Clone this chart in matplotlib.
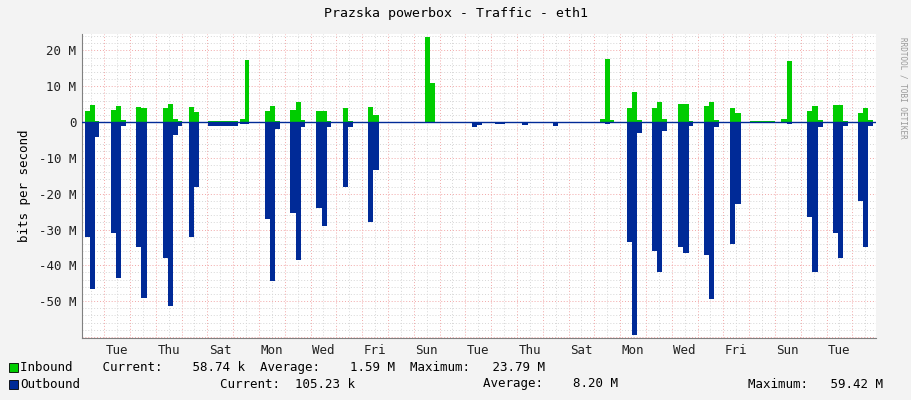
import matplotlib
matplotlib.use("Agg")
import matplotlib.pyplot as plt
from matplotlib.patches import Rectangle

# hours since start of graph; bin boundaries
bin_start = [2.8, 7.4, 12.1, 27.0, 31.6, 36.3, 50.2, 54.9, 75.3, 80.0, 84.7, 89.3,
             99.5, 104.2, 117.2, 147.0, 151.6, 170.2, 174.9, 179.5, 193.5, 199.1, 203.7,
             217.7, 223.3, 227.9, 242.8, 247.4, 266.0, 270.7, 319.1, 323.7, 362.8, 367.4,
             384.2, 409.3, 438.1, 458.6, 481.8, 486.5, 491.1, 507.0, 511.6, 516.3,
             530.2, 534.9, 539.5, 554.4, 559.1, 564.7, 578.6, 583.3, 587.9, 602.8, 607.4,
             621.4, 650.2, 655.8, 674.4, 679.1, 684.6, 698.6, 703.3, 707.9,
             721.8, 726.5, 731.1]
bin_end = [7.4, 12.1, 15.8, 31.6, 36.3, 40.9, 54.9, 60.5, 80.0, 84.7, 89.3, 93.0,
           104.2, 108.8, 145.1, 151.6, 155.3, 174.9, 179.5, 184.2, 199.1, 203.7, 207.4,
           223.3, 227.9, 231.6, 247.4, 252.1, 270.7, 276.3, 323.7, 328.4, 367.4, 372.1,
           393.5, 414.9, 442.8, 463.2, 486.5, 491.1, 494.9, 511.6, 516.3, 520.9,
           534.9, 539.5, 544.2, 559.1, 564.7, 568.4, 583.3, 587.9, 592.5, 607.4, 613.0,
           644.6, 655.8, 660.5, 679.1, 684.6, 689.3, 703.3, 707.9, 712.6,
           726.5, 731.1, 735.8]
inbound = [3.2, 4.8, 0.3, 3.5, 4.5, 0.5, 4.2, 4.0, 4.0, 5.0, 1.0, 0.2,
           4.2, 2.7, 0.2, 1.0, 17.2, 3.0, 4.5, 0.3, 3.5, 5.5, 0.5,
           3.0, 3.0, 0.2, 4.0, 0.3, 4.2, 2.0, 23.8, 11.0, 0.1, 0.1,
           0.1, 0.1, 0.1, 0.1, 0.8, 17.5, 0.5, 4.0, 8.5, 0.5,
           4.0, 5.5, 1.0, 5.0, 5.0, 0.2, 4.5, 5.5, 0.5, 4.0, 2.5,
           0.2, 1.0, 17.0, 3.0, 4.5, 0.5, 4.8, 4.8, 0.2,
           2.5, 3.8, 0.5]
outbound = [-32.0, -46.5, -4.2, -31.0, -43.5, -1.0, -35.0, -49.0, -38.0, -51.5, -3.5, -1.0,
            -32.0, -18.0, -1.0, -0.4, -0.5, -27.0, -44.5, -2.0, -25.5, -38.5, -1.5,
            -24.0, -29.0, -1.5, -18.0, -1.5, -28.0, -13.5, -0.3, -0.3, -1.5, -0.8,
            -0.5, -0.8, -1.0, -0.3, -0.3, -0.5, -0.3, -33.5, -59.4, -3.0,
            -36.0, -42.0, -2.5, -35.0, -36.5, -1.0, -37.0, -49.5, -1.5, -34.0, -23.0,
            -0.3, -0.3, -0.5, -26.5, -42.0, -1.5, -31.0, -38.0, -1.0,
            -22.0, -35.0, -1.0]
day_labels = ["Tue", "Thu", "Sat", "Mon", "Wed", "Fri", "Sun", "Tue", "Thu", "Sat",
              "Mon", "Wed", "Fri", "Sun", "Tue"]
first_noon_h = 32.6
x_end_h = 738.6

mono = "DejaVu Sans Mono"
fig = plt.figure(figsize=(9.11, 4.0), dpi=100, facecolor="#f3f3f3")
ax = fig.add_axes([82/911, 62/400, 794/911, 304/400], facecolor="white")
ax.set_xlim(0, x_end_h)
ax.set_ylim(-60.3, 24.6)

# grid
for h in range(-600, 800, 12):
    hh = first_noon_h - 12 + h
    if 0 < hh < x_end_h:
        major = (h % 24 == 0)
        ax.axvline(hh, color="#f2a8a8" if major else "#d6d6d6", lw=0.7, ls=(0, (1, 2)), zorder=0)
for v in range(-60, 25, 2):
    major = v % 10 == 0
    ax.axhline(v, color="#f2a8a8" if major else "#d6d6d6", lw=0.7, ls=(0, (1, 2)), zorder=0)

w = [e - s for s, e in zip(bin_start, bin_end)]
ax.bar(bin_start, inbound, width=w, align="edge", color="#00cc00", lw=0, zorder=2)
ax.bar(bin_start, outbound, width=w, align="edge", color="#002a97", lw=0, zorder=3)
ax.axhline(0, color="#002a97", lw=1, zorder=4)

ax.set_xticks([first_noon_h + 48*i for i in range(len(day_labels))])
ax.set_xticklabels(day_labels, fontsize=9, family=mono)
ax.set_yticks(range(-50, 21, 10))
ax.set_yticklabels([f"{v} M" if v else "0" for v in range(-50, 21, 10)], fontsize=9, family=mono)
ax.tick_params(length=0, pad=4, colors="#222222")
for s in ["top", "right"]:
    ax.spines[s].set_visible(False)
for s in ["left", "bottom"]:
    ax.spines[s].set_color("#808080")
ax.set_ylabel("bits per second", fontsize=9, family=mono, labelpad=6)
fig.text(0.5, 1 - 14/400, "Prazska powerbox - Traffic - eth1", ha="center", va="center",
         fontsize=9.5, family=mono)
fig.text(903/911, 0.78, "RRDTOOL / TOBI OETIKER", rotation=270, ha="center", va="center",
         fontsize=5.5, family=mono, color="#999999")

# legend
for y, col, txt in [(367, "#00cc00", "Inbound    Current:    58.74 k  Average:    1.59 M  Maximum:   23.79 M"),
                    (384, "#002a97", "Outbound")]:
    fig.patches.append(Rectangle((9/911, 1 - (y + 5)/400), 9/911, 9/400,
                                 transform=fig.transFigure, facecolor=col, edgecolor="black", lw=0.6))
    fig.text(20/911, 1 - y/400, txt, va="center", fontsize=9, family=mono)
fig.text(220/911, 1 - 384/400, "Current:  105.23 k", va="center", fontsize=9, family=mono)
fig.text(483/911, 1 - 384/400, "Average:    8.20 M", va="center", fontsize=9, family=mono)
fig.text(748/911, 1 - 384/400, "Maximum:   59.42 M", va="center", fontsize=9, family=mono)

fig.savefig("out.png", dpi=100, facecolor=fig.get_facecolor())
